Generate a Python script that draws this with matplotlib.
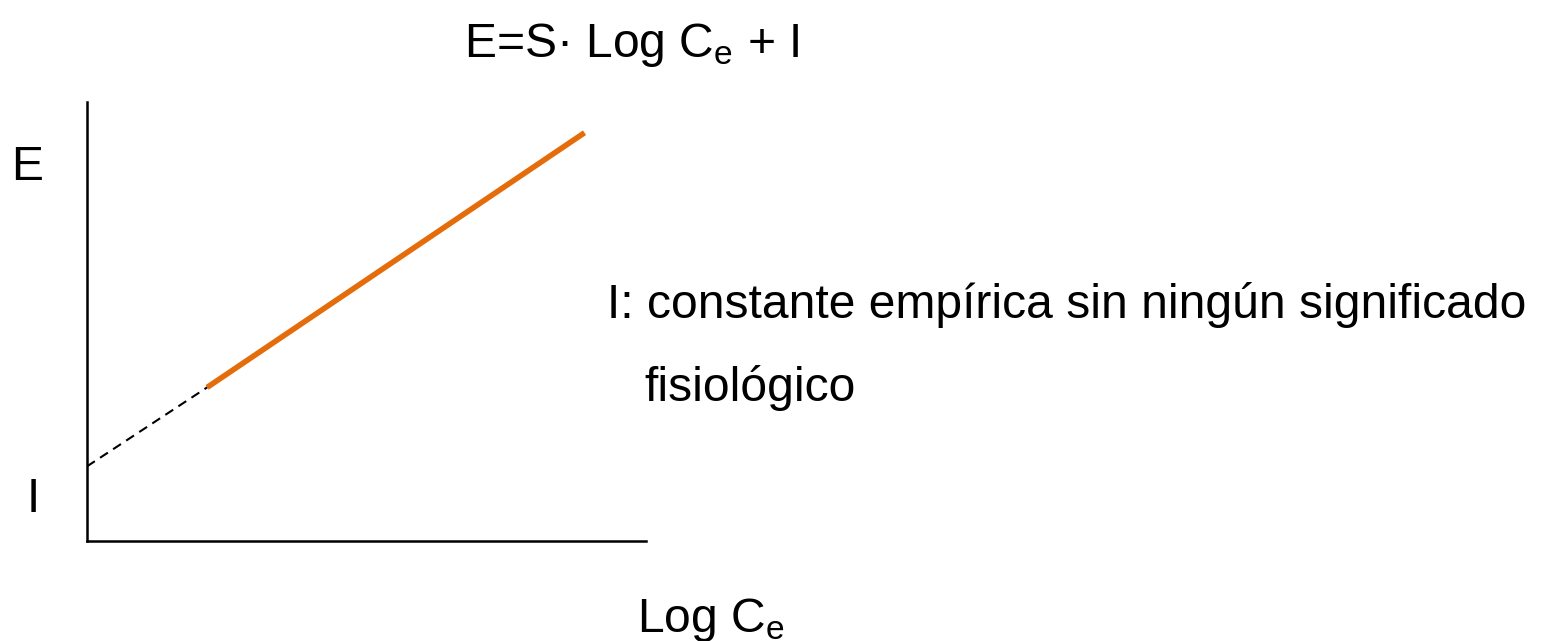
import matplotlib
matplotlib.use("Agg")
import matplotlib.pyplot as plt

plt.rcParams['font.family'] = ['Liberation Sans', 'DejaVu Sans']
plt.rcParams['mathtext.fontset'] = 'custom'
plt.rcParams['mathtext.rm'] = 'Liberation Sans'
plt.rcParams['mathtext.it'] = 'Liberation Sans'
plt.rcParams['mathtext.default'] = 'regular'

# Data
log_c_solid = [2.15, 8.9]
e_solid = [3.5, 9.3]
log_c_dash = [0.0, 2.15]
e_dash = [1.7, 3.5]

title_text = "E=S· Log C$_{e}$ + I"
xlabel_text = "Log C$_{e}$"
ylabel_top = "E"
ylabel_bottom = "I"
note_line1 = "I: constante empírica sin ningún significado"
note_line2 = "fisiológico"

W, H = 1548, 641
fig = plt.figure(figsize=(W / 100, H / 100), dpi=100)
ax = fig.add_axes([87 / W, (H - 541) / H, (646 - 87) / W, (541 - 102) / H])
ax.set_xlim(0, 10)
ax.set_ylim(0, 10)
ax.plot(log_c_solid, e_solid, color='#E46C0A', lw=4.0, solid_capstyle='butt')
ax.plot(log_c_dash, e_dash, color='black', lw=1.5, ls=(0, (4.5, 3)))
for s in ['top', 'right']:
    ax.spines[s].set_visible(False)
for s in ['left', 'bottom']:
    ax.spines[s].set_linewidth(1.8)
ax.set_xticks([])
ax.set_yticks([])

fs = 34.6
fig.text(632 / W, 1 - 45 / H, title_text, ha='center', va='center', fontsize=fs)
fig.text(27 / W, 1 - 168 / H, ylabel_top, ha='center', va='center', fontsize=fs)
fig.text(33 / W, 1 - 500 / H, ylabel_bottom, ha='center', va='center', fontsize=fs)
fig.text(607 / W, 1 - 305 / H, note_line1, ha='left', va='center', fontsize=fs)
fig.text(644 / W, 1 - 388 / H, note_line2, ha='left', va='center', fontsize=fs)
fig.text(637 / W, 1 - 620 / H, xlabel_text, ha='left', va='center', fontsize=fs)

fig.savefig("out.png", dpi=100)
